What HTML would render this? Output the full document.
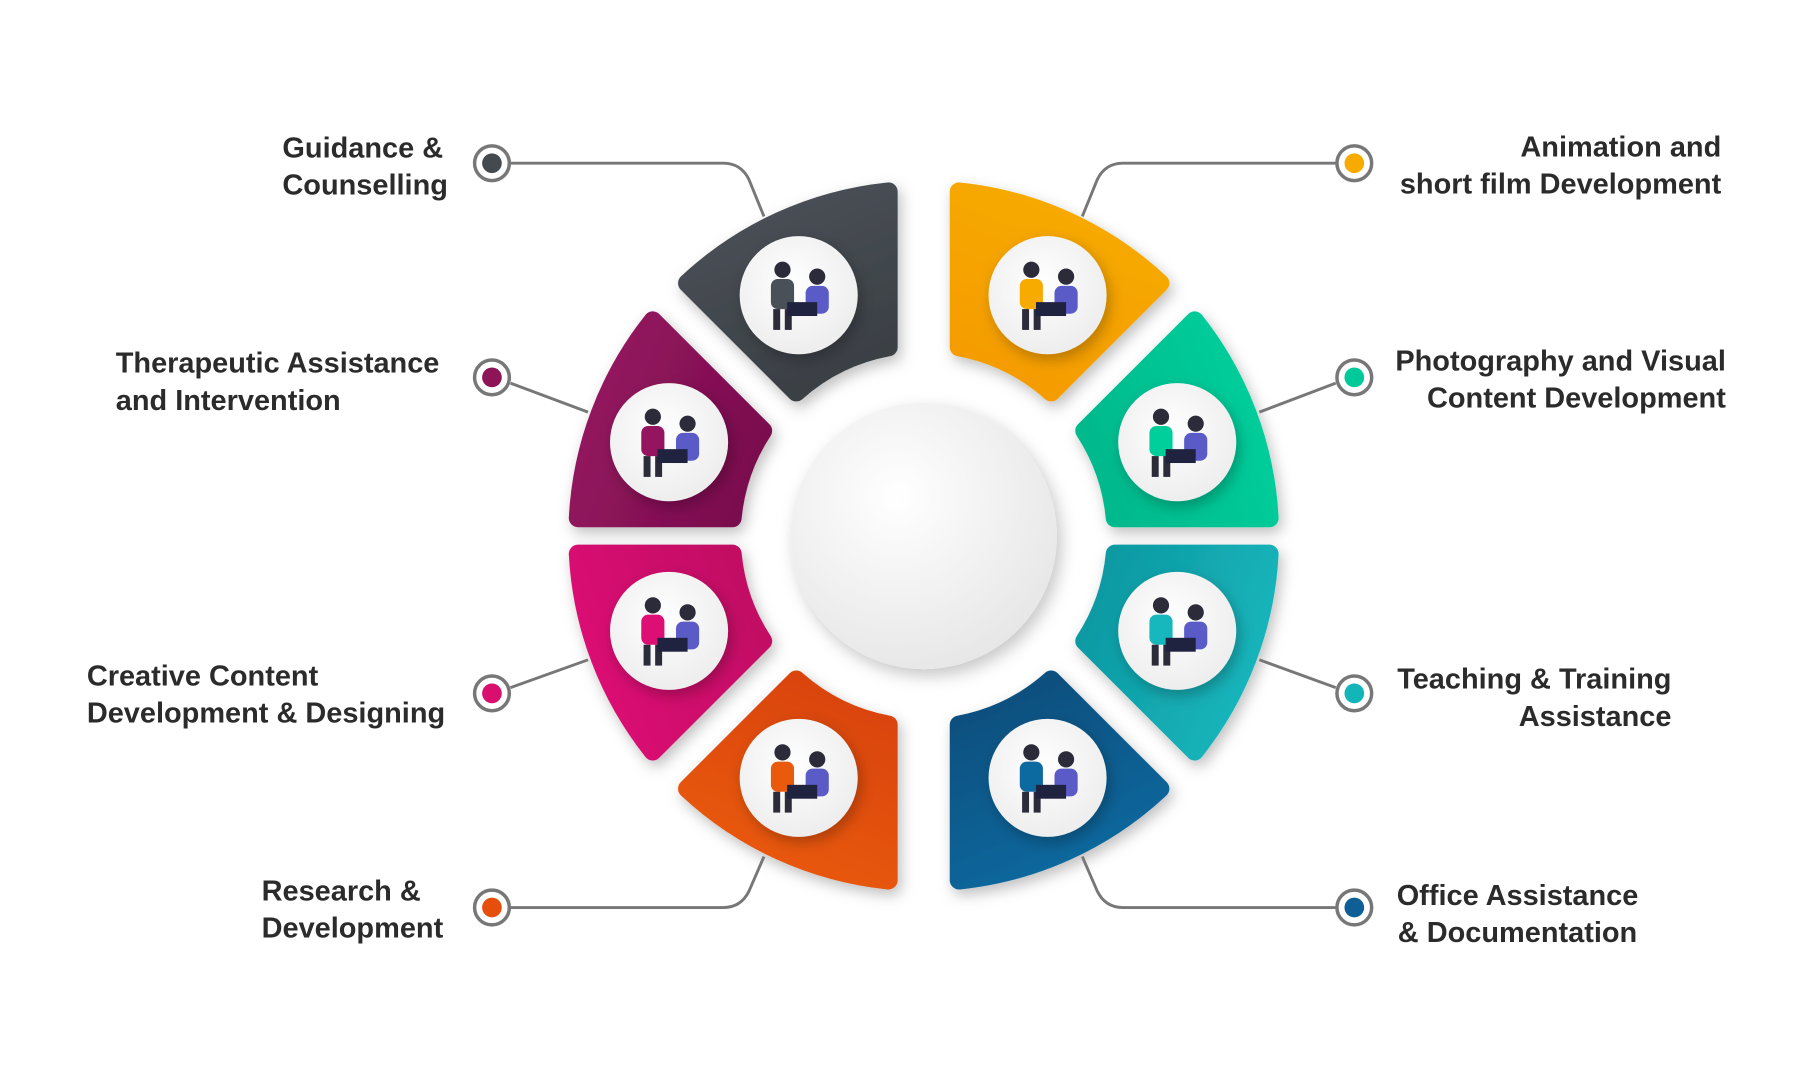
<!DOCTYPE html>
<html><head><meta charset="utf-8">
<style>
html,body{margin:0;padding:0;background:#fff;}
svg{display:block;}
text{font-family:"Liberation Sans",Arial,sans-serif;font-weight:bold;font-size:25px;fill:#2b2b2b;}
</style></head>
<body>
<svg id="s" width="1815" height="1080" viewBox="0 0 1568 933" xmlns="http://www.w3.org/2000/svg">
<defs>
<filter id="sh" x="-30%" y="-30%" width="160%" height="160%"><feDropShadow dx="3" dy="5" stdDeviation="6" flood-color="#000" flood-opacity="0.25"/></filter>
<filter id="sh2" x="-30%" y="-30%" width="160%" height="160%"><feDropShadow dx="4" dy="6" stdDeviation="7" flood-color="#000" flood-opacity="0.22"/></filter>
<radialGradient id="cg" cx="40%" cy="35%" r="70%"><stop offset="0" stop-color="#ffffff"/><stop offset="1" stop-color="#e6e6e6"/></radialGradient>
<radialGradient id="ig" cx="45%" cy="40%" r="65%"><stop offset="0" stop-color="#ffffff"/><stop offset="1" stop-color="#ececec"/></radialGradient>
</defs>
<g id="wedges"></g>
<circle cx="798" cy="463" r="115" fill="url(#cg)" filter="url(#sh2)"/>
<g id="icons"></g>
<g fill="none" stroke="#777" stroke-width="2.5" stroke-linejoin="round">
<path d="M441 141 H625 Q640 141 647 155 L660 187"/>
<path d="M441 331 L508 356"/>
<path d="M441 594 L508 570"/>
<path d="M441 784 H625 Q640 784 647 770 L660 740"/>
<path d="M1154 141 H970 Q955 141 948 155 L935 187"/>
<path d="M1154 331 L1088 356"/>
<path d="M1154 594 L1088 570"/>
<path d="M1154 784 H970 Q955 784 948 770 L935 740"/>
</g>
<g id="dots"></g>
<text x="244" y="136">Guidance &amp;</text>
<text x="244" y="168">Counselling</text>
<text x="100" y="322">Therapeutic Assistance</text>
<text x="100" y="354">and Intervention</text>
<text x="75" y="592">Creative Content</text>
<text x="75" y="624">Development &amp; Designing</text>
<text x="226" y="778">Research &amp;</text>
<text x="226" y="810">Development</text>
<text x="1487" y="135" text-anchor="end">Animation and</text>
<text x="1487" y="167" text-anchor="end">short film Development</text>
<text x="1491" y="320" text-anchor="end">Photography and Visual</text>
<text x="1491" y="352" text-anchor="end">Content Development</text>
<text x="1444" y="595" text-anchor="end">Teaching &amp; Training</text>
<text x="1444" y="627" text-anchor="end">Assistance</text>
<text x="1311" y="782" text-anchor="middle">Office Assistance</text>
<text x="1311" y="814" text-anchor="middle">&amp; Documentation</text>
</svg>
<script>
(function(){
var cx=798,cy=463,R=299,r=166,s=8;
var NS="http://www.w3.org/2000/svg";
function vis(phi,vertWedge){var p=((phi%360)+360)%360;if(p==90||p==270)return 22.5;if(p==0||p==180)return 7.5;return vertWedge?2:26;}
function rad(d){return d*Math.PI/180;}
function pt(phi,side,rho,vw){var h=vis(phi,vw)+s;var u=[Math.cos(rad(phi)),Math.sin(rad(phi))];
var n=side>0?[-Math.sin(rad(phi)),Math.cos(rad(phi))]:[Math.sin(rad(phi)),-Math.cos(rad(phi))];
var t=Math.sqrt(rho*rho-h*h);return [cx+n[0]*h+u[0]*t,cy+n[1]*h+u[1]*t];}
var W=[[-90,-45,"#f7ab00","#f59c00",905,255,1],[-45,0,"#00cf9c","#02b98c",1017,382,0],[0,45,"#16b7bd","#0e9aa3",1017,545,0],[45,90,"#0d6aa0","#0a4f7e",905,672,1],
[90,135,"#ea5a0c","#d9440a",690,672,1],[135,180,"#dd0f74","#c20c64",578,545,0],[180,225,"#95145f","#7a0f4e",578,382,0],[225,270,"#4a5057","#3a3f44",690,255,1]];
var g=document.getElementById("wedges"),ic=document.getElementById("icons"),defs=document.querySelector("defs");
W.forEach(function(w,i){
var vw=w[6];
var a=pt(w[0],1,R,vw),b=pt(w[1],-1,R,vw),c=pt(w[1],-1,r,vw),d=pt(w[0],1,r,vw);
var gr=document.createElementNS(NS,"linearGradient");gr.setAttribute("id","wg"+i);
var m=rad((w[0]+w[1])/2);gr.setAttribute("x1",0.5-0.5*Math.cos(m));gr.setAttribute("y1",0.5-0.5*Math.sin(m));gr.setAttribute("x2",0.5+0.5*Math.cos(m));gr.setAttribute("y2",0.5+0.5*Math.sin(m));
gr.innerHTML='<stop offset="0" stop-color="'+w[3]+'"/><stop offset="1" stop-color="'+w[2]+'"/>';defs.appendChild(gr);
var p=document.createElementNS(NS,"path");
p.setAttribute("d","M"+a+" A"+R+" "+R+" 0 0 1 "+b+" L"+c+" A"+r+" "+r+" 0 0 0 "+d+" Z");
p.setAttribute("fill","url(#wg"+i+")");p.setAttribute("stroke","url(#wg"+i+")");p.setAttribute("stroke-width",2*s);p.setAttribute("stroke-linejoin","round");
p.setAttribute("filter","url(#sh)");g.appendChild(p);
var x=w[4],y=w[5];
var gg=document.createElementNS(NS,"g");
gg.innerHTML='<circle cx="'+x+'" cy="'+y+'" r="51" fill="url(#ig)" filter="url(#sh)"/>'+
'<circle cx="'+(x-14)+'" cy="'+(y-22)+'" r="7" fill="#2b2b3a"/>'+
'<rect x="'+(x-24)+'" y="'+(y-14)+'" width="20" height="26" rx="6" fill="'+w[2]+'"/>'+
'<rect x="'+(x-22)+'" y="'+(y+12)+'" width="6" height="18" fill="#2b2b3a"/><rect x="'+(x-12)+'" y="'+(y+12)+'" width="6" height="18" fill="#2b2b3a"/>'+
'<circle cx="'+(x+16)+'" cy="'+(y-16)+'" r="7" fill="#2b2b3a"/>'+
'<rect x="'+(x+6)+'" y="'+(y-8)+'" width="20" height="24" rx="6" fill="#5b5bc8"/>'+
'<rect x="'+(x-10)+'" y="'+(y+6)+'" width="26" height="12" fill="#1f2340"/>';
ic.appendChild(gg);
});
var D=[[425,141,"#454a4f"],[425,326,"#8e1458"],[425,599,"#d80f6e"],[425,784,"#e54e0b"],[1170,141,"#f7ab00"],[1170,326,"#00c99a"],[1170,599,"#13b5b9"],[1170,784,"#0d5f96"]];
var dg=document.getElementById("dots");
D.forEach(function(d){dg.innerHTML+='<circle cx="'+d[0]+'" cy="'+d[1]+'" r="15" fill="#fff" stroke="#777" stroke-width="3"/><circle cx="'+d[0]+'" cy="'+d[1]+'" r="8.5" fill="'+d[2]+'"/>';});
})();
</script>
</body></html>
